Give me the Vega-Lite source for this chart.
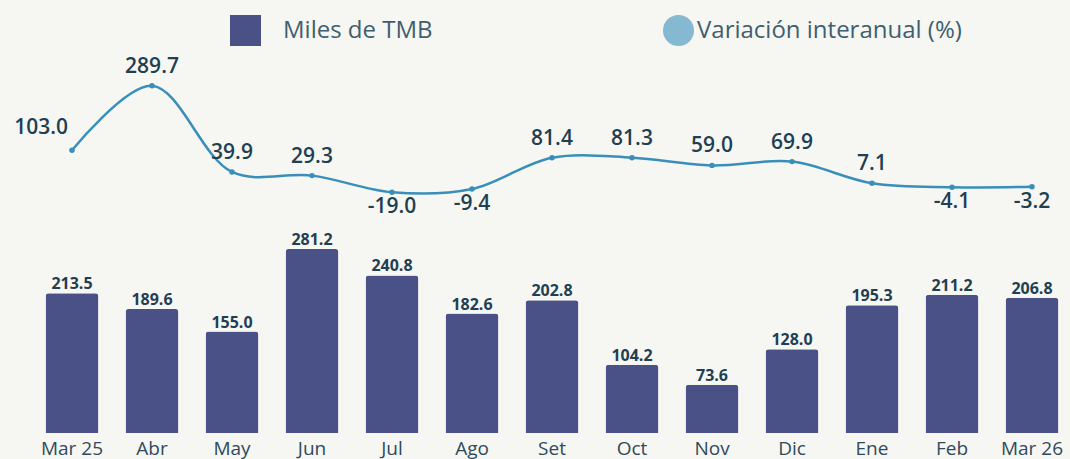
{
  "$schema": "https://vega.github.io/schema/vega-lite/v6.json",
  "width": 1040,
  "height": 393,
  "autosize": {"type": "none"},
  "padding": {"left": 32, "top": 40, "right": 0, "bottom": 26},
  "background": "#f6f6f2",
  "config": {
    "font": "Open Sans",
    "view": {"stroke": null},
    "locale": {"number": {"decimal": ".", "thousands": ",", "grouping": [3], "currency": ["", ""], "minus": "-"}}
  },
  "data": {
    "values": [
      {"month": "Mar 25", "tmb": 213.5, "var": 103.0},
      {"month": "Abr", "tmb": 189.6, "var": 289.7},
      {"month": "May", "tmb": 155.0, "var": 39.9},
      {"month": "Jun", "tmb": 281.2, "var": 29.3},
      {"month": "Jul", "tmb": 240.8, "var": -19.0},
      {"month": "Ago", "tmb": 182.6, "var": -9.4},
      {"month": "Set", "tmb": 202.8, "var": 81.4},
      {"month": "Oct", "tmb": 104.2, "var": 81.3},
      {"month": "Nov", "tmb": 73.6, "var": 59.0},
      {"month": "Dic", "tmb": 128.0, "var": 69.9},
      {"month": "Ene", "tmb": 195.3, "var": 7.1},
      {"month": "Feb", "tmb": 211.2, "var": -4.1},
      {"month": "Mar 26", "tmb": 206.8, "var": -3.2}
    ]
  },
  "encoding": {
    "x": {
      "field": "month", "type": "nominal", "sort": null,
      "scale": {"paddingInner": 0.34, "paddingOuter": 0.17},
      "axis": {"title": null, "labelAngle": 0, "domain": false, "ticks": false, "labelPadding": 6, "labelFontSize": 19, "labelColor": "#2f4a5c", "labelFont": "Open Sans"}
    }
  },
  "layer": [
    {
      "encoding": {
        "y": {"field": "tmb", "type": "quantitative", "scale": {"domain": [0, 600.6], "nice": false, "zero": false}, "axis": null}
      },
      "layer": [
        {
          "mark": {"type": "bar", "cornerRadiusTopLeft": 3, "cornerRadiusTopRight": 3},
          "encoding": {
            "color": {
              "datum": "Miles de TMB",
              "scale": {"range": ["#4a5186"]},
              "legend": {"title": null, "orient": "none", "legendX": 198, "legendY": -25, "symbolType": "square", "symbolSize": 961, "symbolStrokeWidth": 0, "labelOffset": 22, "labelFontSize": 24, "labelLimit": 400, "labelColor": "#3f5f70", "labelFont": "Open Sans", "padding": 0}
            }
          }
        },
        {
          "mark": {"type": "text", "baseline": "alphabetic", "dy": -4, "fontSize": 16, "fontWeight": "bold", "color": "#1f3f52"},
          "encoding": {"text": {"field": "tmb", "type": "quantitative", "format": ".1f"}}
        }
      ]
    },
    {
      "encoding": {
        "y": {"field": "var", "type": "quantitative", "scale": {"domain": [-716.7, 422.4], "nice": false, "zero": false}, "axis": null}
      },
      "layer": [
        {
          "mark": {"type": "line", "interpolate": "catmull-rom", "color": "#3a8fba", "strokeWidth": 2.5}
        },
        {
          "mark": {"type": "point", "filled": true, "size": 30, "opacity": 1},
          "encoding": {
            "fill": {
              "datum": "Variación interanual (%)",
              "scale": {"range": ["#3a8fba"]},
              "legend": {"title": null, "orient": "none", "legendX": 631, "legendY": -25, "symbolType": "circle", "symbolSize": 961, "symbolOpacity": 0.6, "symbolStrokeWidth": 0, "labelOffset": 3, "labelFontSize": 24, "labelLimit": 400, "labelColor": "#3f5f70", "labelFont": "Open Sans", "padding": 0}
            }
          }
        },
        {
          "transform": [{"filter": "datum.var >= 0 && datum.month != 'Mar 25'"}],
          "mark": {"type": "text", "baseline": "middle", "dy": -19, "fontSize": 21, "fontWeight": 600, "color": "#1f3f52"},
          "encoding": {"text": {"field": "var", "type": "quantitative", "format": ".1f"}}
        },
        {
          "transform": [{"filter": "datum.var < 0"}],
          "mark": {"type": "text", "baseline": "middle", "dy": 15, "fontSize": 21, "fontWeight": 600, "color": "#1f3f52"},
          "encoding": {"text": {"field": "var", "type": "quantitative", "format": ".1f"}}
        },
        {
          "transform": [{"filter": "datum.month == 'Mar 25'"}],
          "mark": {"type": "text", "baseline": "middle", "align": "right", "dx": -4, "dy": -22, "fontSize": 21, "fontWeight": 600, "color": "#1f3f52"},
          "encoding": {"text": {"field": "var", "type": "quantitative", "format": ".1f"}}
        }
      ]
    }
  ],
  "resolve": {"scale": {"y": "independent"}}
}
